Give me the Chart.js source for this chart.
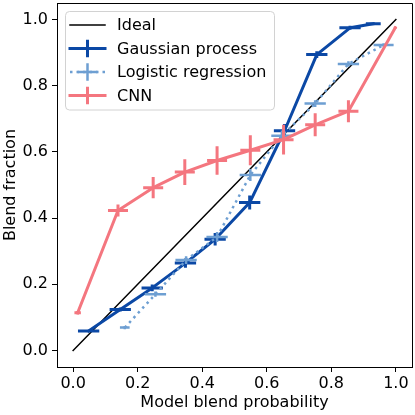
<!DOCTYPE html>
<html>
<head>
<meta charset="utf-8">
<script src="https://cdn.jsdelivr.net/npm/chart.js@4"></script>
<style>
html,body{margin:0;padding:0;background:#fff;}
#wrap{width:415px;height:415px;}
</style>
</head>
<body>
<div id="wrap"><canvas id="c" width="415" height="415"></canvas></div>
<script>
// ---- data ----
const idealX = [0, 1];
const idealY = [0, 1];

const gpX    = [0.048, 0.146, 0.245, 0.348, 0.440, 0.547, 0.655, 0.755, 0.858, 0.930];
const gpY    = [0.059, 0.124, 0.189, 0.264, 0.336, 0.447, 0.664, 0.894, 0.975, 0.987];
const gpXErr = [0.033, 0.033, 0.033, 0.033, 0.033, 0.033, 0.033, 0.033, 0.033, 0.023];
const gpYErr = [0.004, 0.006, 0.010, 0.014, 0.019, 0.021, 0.020, 0.010, 0.006, 0.004];

const lrX    = [0.160, 0.255, 0.350, 0.446, 0.549, 0.647, 0.750, 0.853, 0.962];
const lrY    = [0.069, 0.170, 0.273, 0.343, 0.530, 0.649, 0.746, 0.866, 0.923];
const lrXErr = [0.015, 0.033, 0.033, 0.033, 0.033, 0.033, 0.033, 0.033, 0.031];
const lrYErr = [0.005, 0.008, 0.012, 0.015, 0.018, 0.016, 0.010, 0.008, 0.005];

const cnnX    = [0.014, 0.139, 0.248, 0.346, 0.446, 0.549, 0.652, 0.750, 0.853, 0.998];
const cnnY    = [0.114, 0.423, 0.492, 0.539, 0.574, 0.605, 0.637, 0.682, 0.723, 0.975];
const cnnXErr = [0.010, 0.031, 0.031, 0.031, 0.031, 0.031, 0.031, 0.031, 0.031, 0.002];
const cnnYErr = [0.005, 0.018, 0.032, 0.039, 0.043, 0.045, 0.045, 0.035, 0.033, 0.003];

const xTicks = [0, 0.2, 0.4, 0.6, 0.8, 1.0];
const yTicks = [0, 0.2, 0.4, 0.6, 0.8, 1.0];

const labels = ['Ideal', 'Gaussian process', 'Logistic regression', 'CNN'];
const xTitle = 'Model blend probability';
const yTitle = 'Blend fraction';

// ---- styles ----
const FONT = '"DejaVu Sans", sans-serif';
const FS = 16;
const cIdeal = '#000000';
const cGP = '#0b48a5';
const cLR = '#6e9fd2';
const cCNN = '#f4767f';

function pts(xs, ys) { return xs.map((x, i) => ({x: x, y: ys[i]})); }

const datasets = [
  {label: labels[0], data: pts(idealX, idealY), borderColor: cIdeal, borderWidth: 1.5, order: 4,
   _lw: 1.5},
  {label: labels[1], data: pts(gpX, gpY), borderColor: cGP, borderWidth: 3, order: 3,
   _xerr: gpXErr, _yerr: gpYErr, _lw: 3},
  {label: labels[2], data: pts(lrX, lrY), borderColor: cLR, borderWidth: 2.5, borderDash: [2.5, 4],
   borderCapStyle: 'butt', order: 2, _xerr: lrXErr, _yerr: lrYErr, _lw: 2.5},
  {label: labels[3], data: pts(cnnX, cnnY), borderColor: cCNN, borderWidth: 3, order: 1,
   _xerr: cnnXErr, _yerr: cnnYErr, _lw: 3}
];
datasets.forEach(d => {
  d.pointRadius = 0; d.pointHoverRadius = 0; d.tension = 0; d.fill = false;
  d.borderJoinStyle = 'round';
  if (!d.borderCapStyle) d.borderCapStyle = 'square';
});

const errorBars = {
  id: 'errorBars',
  afterDatasetDraw(chart, args) {
    const ds = chart.data.datasets[args.index];
    if (!ds._xerr) return;
    const xs = chart.scales.x, ys = chart.scales.y, ctx = chart.ctx;
    ctx.save();
    ctx.strokeStyle = ds.borderColor;
    ctx.lineWidth = ds._lw;
    ctx.lineCap = 'butt';
    ds.data.forEach((p, i) => {
      const px = xs.getPixelForValue(p.x), py = ys.getPixelForValue(p.y);
      const x0 = xs.getPixelForValue(p.x - ds._xerr[i]), x1 = xs.getPixelForValue(p.x + ds._xerr[i]);
      const y0 = ys.getPixelForValue(p.y - ds._yerr[i]), y1 = ys.getPixelForValue(p.y + ds._yerr[i]);
      ctx.beginPath();
      ctx.moveTo(x0, py); ctx.lineTo(x1, py);
      ctx.moveTo(px, y0); ctx.lineTo(px, y1);
      ctx.stroke();
    });
    ctx.restore();
  }
};

const frameAndLegend = {
  id: 'frameAndLegend',
  afterDraw(chart) {
    const ctx = chart.ctx, a = chart.chartArea;
    ctx.save();
    // frame top/right
    ctx.strokeStyle = '#000'; ctx.lineWidth = 1;
    ctx.beginPath();
    ctx.moveTo(a.left, a.top + 0.5); ctx.lineTo(a.right + 0.5, a.top + 0.5); ctx.lineTo(a.right + 0.5, a.bottom);
    ctx.stroke();
    // legend box
    const bx = 65.5, by = 11.5, bw = 209, bh = 98.5, r = 4;
    ctx.beginPath();
    ctx.moveTo(bx + r, by);
    ctx.arcTo(bx + bw, by, bx + bw, by + bh, r);
    ctx.arcTo(bx + bw, by + bh, bx, by + bh, r);
    ctx.arcTo(bx, by + bh, bx, by, r);
    ctx.arcTo(bx, by, bx + bw, by, r);
    ctx.closePath();
    ctx.fillStyle = 'rgba(255,255,255,0.8)';
    ctx.fill();
    ctx.strokeStyle = '#d2d2d2';
    ctx.lineWidth = 1;
    ctx.stroke();
    // entries
    const rowY0 = 25, rowH = 23.5, hx0 = 70, hx1 = 105, tx = 117;
    ctx.font = FS + 'px ' + FONT;
    ctx.textBaseline = 'middle';
    ctx.textAlign = 'left';
    chart.data.datasets.forEach((ds, i) => {
      const y = rowY0 + i * rowH;
      ctx.strokeStyle = ds.borderColor;
      ctx.lineWidth = ds._lw;
      ctx.setLineDash(ds.borderDash || []);
      ctx.lineCap = ds.borderDash ? 'butt' : 'square';
      ctx.beginPath(); ctx.moveTo(hx0, y); ctx.lineTo(hx1, y); ctx.stroke();
      ctx.setLineDash([]);
      if (ds._xerr) {
        const cx = (hx0 + hx1) / 2;
        ctx.lineCap = 'butt';
        ctx.beginPath();
        ctx.moveTo(cx - 10, y); ctx.lineTo(cx + 10, y);
        ctx.moveTo(cx, y - 8.7); ctx.lineTo(cx, y + 8.7);
        ctx.stroke();
      }
      ctx.fillStyle = '#000';
      ctx.fillText(ds.label, tx, y + 1);
    });
    ctx.restore();
  }
};

const tickFmt = v => Number(v).toFixed(1);

new Chart(document.getElementById('c'), {
  type: 'line',
  data: {datasets: datasets},
  options: {
    responsive: false,
    devicePixelRatio: 1,
    animation: false,
    events: [],
    layout: {padding: {top: 3, right: 3, left: 0, bottom: 0}},
    plugins: {legend: {display: false}, tooltip: {enabled: false}},
    scales: {
      x: {
        type: 'linear', min: -0.05, max: 1.05,
        afterBuildTicks: s => { s.ticks = xTicks.map(v => ({value: v})); },
        afterFit: s => { s.height = 48; s.paddingLeft = 0; s.paddingRight = 0; },
        grid: {display: true, drawOnChartArea: false, drawTicks: true, tickLength: 5, color: '#000', lineWidth: 1},
        border: {display: true, color: '#000', width: 1},
        ticks: {color: '#000', font: {family: FONT, size: FS}, padding: 2, maxRotation: 0, autoSkip: false, callback: tickFmt},
        title: {display: true, text: xTitle, color: '#000', font: {family: FONT, size: FS}, padding: {top: 0, bottom: 3}}
      },
      y: {
        type: 'linear', min: -0.05, max: 1.05,
        afterBuildTicks: s => { s.ticks = yTicks.map(v => ({value: v})); },
        afterFit: s => { s.width = 57; s.paddingTop = 0; s.paddingBottom = 0; },
        grid: {display: true, drawOnChartArea: false, drawTicks: true, tickLength: 5, color: '#000', lineWidth: 1},
        border: {display: true, color: '#000', width: 1},
        ticks: {color: '#000', font: {family: FONT, size: FS}, padding: 4, autoSkip: false, callback: tickFmt},
        title: {display: true, text: yTitle, color: '#000', font: {family: FONT, size: FS}, padding: {top: 1, bottom: 0}}
      }
    }
  },
  plugins: [errorBars, frameAndLegend]
});
</script>
</body>
</html>
